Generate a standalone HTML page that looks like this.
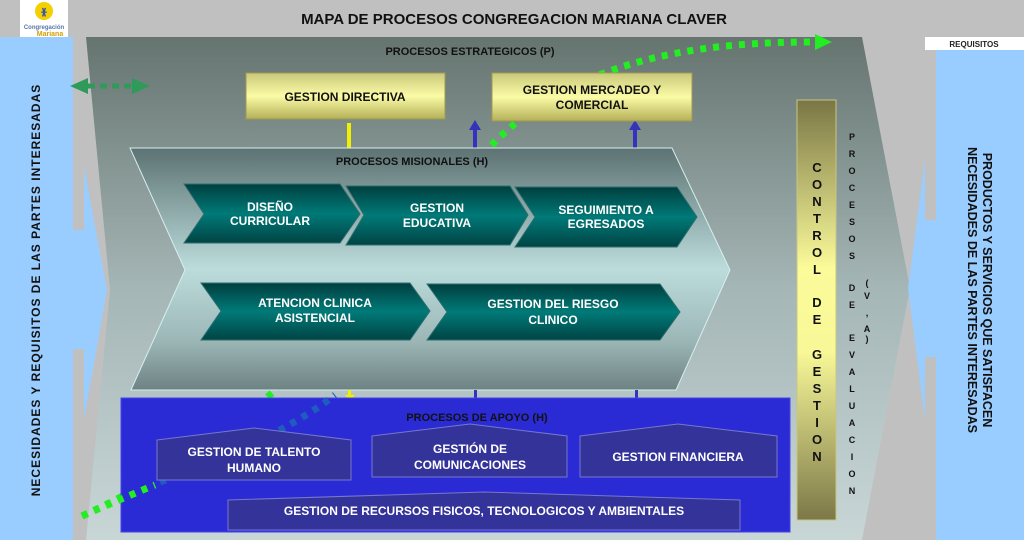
<!DOCTYPE html>
<html><head><meta charset="utf-8"><style>
body{margin:0;width:1024px;height:540px;overflow:hidden;background:#c0c0c0;font-family:"Liberation Sans",sans-serif}
svg{position:absolute;left:0;top:0}
text{font-family:"Liberation Sans",sans-serif;font-weight:bold}
</style></head><body>
<svg width="1024" height="540" viewBox="0 0 1024 540">
<defs>
<linearGradient id="gm" x1="0" y1="0" x2="0" y2="1"><stop offset="0" stop-color="#65746f"/><stop offset="0.5" stop-color="#a5b6b6"/><stop offset="1" stop-color="#c8d6d6"/></linearGradient>
<linearGradient id="gmis" x1="0" y1="0" x2="0" y2="1"><stop offset="0" stop-color="#5d7272"/><stop offset="0.5" stop-color="#bcdcdc"/><stop offset="0.8" stop-color="#9cb6b6"/><stop offset="1" stop-color="#6e8282"/></linearGradient>
<linearGradient id="gy" x1="0" y1="0" x2="0" y2="1"><stop offset="0" stop-color="#c9c87a"/><stop offset="0.5" stop-color="#fbfba6"/><stop offset="1" stop-color="#b4b058"/></linearGradient>
<linearGradient id="gt" x1="0" y1="0" x2="0" y2="1"><stop offset="0" stop-color="#003f3f"/><stop offset="0.5" stop-color="#007a78"/><stop offset="1" stop-color="#004444"/></linearGradient>
<linearGradient id="gc" x1="0" y1="0" x2="0" y2="1"><stop offset="0" stop-color="#7a7646"/><stop offset="0.4" stop-color="#fbfb9a"/><stop offset="0.6" stop-color="#f8f898"/><stop offset="1" stop-color="#7c7848"/></linearGradient>
</defs>
<rect x="0" y="37" width="84" height="503" fill="#99ccff"/>
<rect x="73" y="37" width="11" height="193" fill="#c0c0c0"/>
<rect x="73" y="349" width="11" height="191" fill="#c0c0c0"/>
<rect x="925" y="37" width="99" height="503" fill="#99ccff"/>
<rect x="925" y="37" width="99" height="13" fill="#fff"/>
<text x="974" y="47" font-size="8" text-anchor="middle" fill="#222">REQUISITOS</text>
<polygon points="86,37 862,37 910,288 862,540 86,540 110,290" fill="url(#gm)"/>
<polygon points="84,167 107,290 84,420" fill="#99ccff"/>
<polygon points="925,160 908,288 925,420" fill="#99ccff"/>
<rect x="925" y="357" width="11" height="183" fill="#c0c0c0"/>
<rect x="925" y="50" width="11" height="170" fill="#c0c0c0"/>
<rect x="20" y="0" width="48" height="37" fill="#fff"/>
<circle cx="44" cy="11" r="9" fill="#f5d000"/>
<text x="44" y="15" font-size="10" fill="#3355aa" text-anchor="middle">ᚕ</text>
<text x="44" y="29" font-size="6" fill="#5577aa" font-weight="normal" text-anchor="middle">Congregación</text>
<text x="50" y="36" font-size="7" fill="#d4a000" font-weight="normal" text-anchor="middle">Mariana</text>
<text x="514" y="24" font-size="15" text-anchor="middle" fill="#111">MAPA DE PROCESOS CONGREGACION MARIANA CLAVER</text>
<text x="470" y="55" font-size="11" text-anchor="middle" fill="#111">PROCESOS ESTRATEGICOS (P)</text>
<path d="M82,516 C250,440 380,300 470,170 C540,80 650,42 810,42" fill="none" stroke="#22ee22" stroke-width="7" stroke-dasharray="6,7"/>
<polygon points="815,34 832,42 815,50" fill="#22ee22"/>
<rect x="347" y="123" width="4" height="26" fill="#f0f000"/>
<rect x="473" y="128" width="4" height="20" fill="#3333bb"/><polygon points="469,130 475,120 481,130" fill="#3333bb"/>
<rect x="633" y="125" width="4" height="23" fill="#3333bb"/><polygon points="629,130 635,120 641,130" fill="#3333bb"/>
<rect x="246" y="73" width="199" height="46" fill="url(#gy)" stroke="#a09a50"/>
<text x="345" y="101" font-size="12" text-anchor="middle" fill="#111">GESTION DIRECTIVA</text>
<rect x="492" y="73" width="200" height="48" fill="url(#gy)" stroke="#a09a50"/>
<text x="592" y="94" font-size="12" text-anchor="middle" fill="#111">GESTION MERCADEO Y</text>
<text x="592" y="109" font-size="12" text-anchor="middle" fill="#111">COMERCIAL</text>
<polygon points="130,148 672,148 730,270 676,390 131,390 185,270" fill="url(#gmis)" stroke="#d8eeee"/>
<text x="412" y="165" font-size="11" text-anchor="middle" fill="#111">PROCESOS MISIONALES  (H)</text>
<g fill="url(#gt)" stroke="#2d6e6e">
<polygon points="184,184 340,184 360,214 340,243 184,243 204,214"/>
<polygon points="346,186 510,186 528,215 510,245 346,245 364,215"/>
<polygon points="515,187 677,187 697,217 677,247 515,247 535,217"/>
<polygon points="201,283 410,283 430,311 410,340 201,340 221,311"/>
<polygon points="427,284 660,284 680,312 660,340 427,340 447,312"/>
</g>
<g fill="#fff" font-size="12" text-anchor="middle">
<text x="270" y="211">DISEÑO</text><text x="270" y="225">CURRICULAR</text>
<text x="437" y="212">GESTION</text><text x="437" y="227">EDUCATIVA</text>
<text x="606" y="214">SEGUIMIENTO A</text><text x="606" y="228">EGRESADOS</text>
<text x="315" y="307">ATENCION CLINICA</text><text x="315" y="322">ASISTENCIAL</text>
<text x="553" y="308">GESTION DEL RIESGO</text><text x="553" y="324">CLINICO</text>
</g>
<rect x="348" y="390" width="3" height="8" fill="#f0f000"/><polygon points="345,395 350,402 355,395" fill="#f0f000"/>
<rect x="474" y="390" width="3" height="10" fill="#3333bb"/>
<rect x="635" y="390" width="3" height="10" fill="#3333bb"/>
<rect x="121" y="398" width="669" height="134" fill="#2b2bd6" stroke="#4444ee"/>
<!-- dots over apoyo -->
<path d="M82,516 C110,504 130,495 155,485" fill="none" stroke="#22ee22" stroke-width="7" stroke-dasharray="6,7"/>
<path d="M160,482 C230,455 290,430 335,395" fill="none" stroke="#1f5cc0" stroke-width="7" stroke-dasharray="6,7"/>
<text x="477" y="421" font-size="11" text-anchor="middle" fill="#111">PROCESOS DE APOYO (H)</text>
<g fill="#333399" stroke="#7777cc">
<polygon points="157,440 254,428 351,440 351,480 157,480"/>
<polygon points="372,436 470,424 567,436 567,477 372,477"/>
<polygon points="580,436 678,424 777,436 777,477 580,477"/>
<polygon points="228,500 484,492 740,500 740,530 228,530"/>
</g>
<g fill="#fff" font-size="12" text-anchor="middle">
<text x="254" y="456">GESTION DE TALENTO</text><text x="254" y="472">HUMANO</text>
<text x="470" y="453">GESTIÓN DE</text><text x="470" y="469">COMUNICACIONES</text>
<text x="678" y="461">GESTION  FINANCIERA</text>
<text x="484" y="515">GESTION DE RECURSOS FISICOS, TECNOLOGICOS Y AMBIENTALES</text>
</g>
<rect x="797" y="100" width="39" height="420" fill="url(#gc)" stroke="#c8c680"/>
<g font-size="13" text-anchor="middle" fill="#111">
<text x="817" y="172">C</text><text x="817" y="189">O</text><text x="817" y="206">N</text><text x="817" y="223">T</text><text x="817" y="240">R</text><text x="817" y="257">O</text><text x="817" y="274">L</text>
<text x="817" y="307">D</text><text x="817" y="324">E</text>
<text x="817" y="359">G</text><text x="817" y="376">E</text><text x="817" y="393">S</text><text x="817" y="410">T</text><text x="817" y="427">I</text><text x="817" y="444">O</text><text x="817" y="461">N</text>
</g>
<g font-size="9" text-anchor="middle" fill="#111">
<text x="852" y="140">P</text><text x="852" y="157">R</text><text x="852" y="174">O</text><text x="852" y="191">C</text><text x="852" y="208">E</text><text x="852" y="225">S</text><text x="852" y="242">O</text><text x="852" y="259">S</text>
<text x="852" y="291">D</text><text x="852" y="308">E</text>
<text x="852" y="341">E</text><text x="852" y="358">V</text><text x="852" y="375">A</text><text x="852" y="392">L</text><text x="852" y="409">U</text><text x="852" y="426">A</text><text x="852" y="443">C</text><text x="852" y="460">I</text><text x="852" y="477">O</text><text x="852" y="494">N</text>
<text x="867" y="286">(</text><text x="867" y="299">V</text><text x="867" y="316">,</text><text x="867" y="332">A</text><text x="867" y="342">)</text>
</g>
<text transform="translate(40,290) rotate(-90)" font-size="12" text-anchor="middle" fill="#111" letter-spacing="1">NECESIDADES Y REQUISITOS DE LAS PARTES INTERESADAS</text>
<text transform="translate(983,290) rotate(90)" font-size="12.5" text-anchor="middle" fill="#111">PRODUCTOS Y SERVICIOS QUE SATISFACEN</text>
<text transform="translate(968,290) rotate(90)" font-size="12.5" text-anchor="middle" fill="#111">NECESIDADES DE LAS PARTES INTERESADAS</text>
<line x1="88" y1="86" x2="132" y2="86" stroke="#2f9a5a" stroke-width="5" stroke-dasharray="7,5"/>
<polygon points="70,86 88,78 88,94" fill="#2f9a5a"/>
<polygon points="150,86 132,78 132,94" fill="#2f9a5a"/>
</svg>
</body></html>
